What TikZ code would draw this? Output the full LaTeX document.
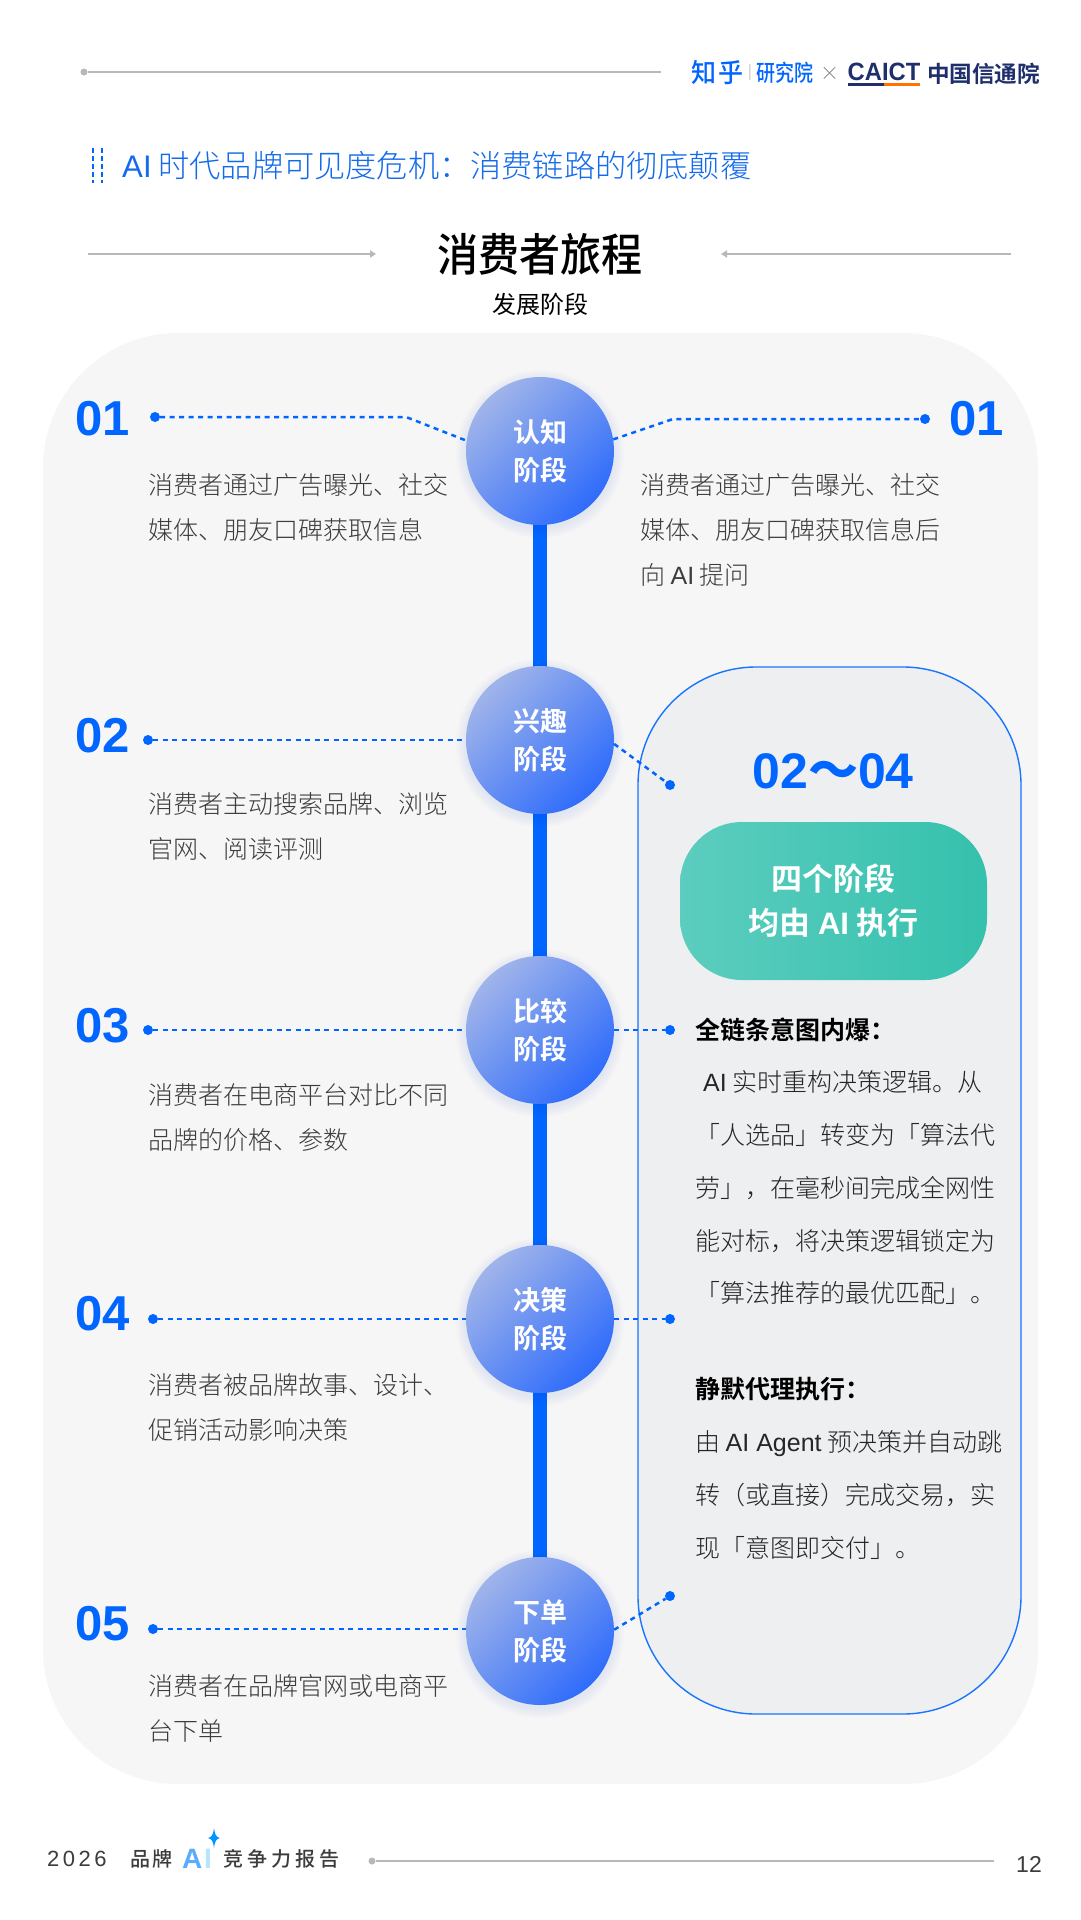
\documentclass[tikz,border=0pt]{standalone}
\usepackage{fontspec}
\usetikzlibrary{arrows.meta}
\setmainfont{Noto Sans CJK SC}[BoldFont={Noto Sans CJK SC Bold}]
\newfontfamily\lightcjk{Noto Sans CJK SC Light}
\newfontfamily\medcjk{Noto Sans CJK SC Medium}
\newfontfamily\lat{Liberation Sans}
\newcommand{\ltn}[1]{{\lat #1}}
\definecolor{mainblue}{HTML}{0066FF}
\definecolor{linegray}{HTML}{B8B8B8}
\definecolor{txtgray}{HTML}{3C3C3C}
\definecolor{logonavy}{HTML}{1F2F6B}
\definecolor{ballA}{HTML}{A0B4EA}
\definecolor{ballB}{HTML}{2F6CFB}
\definecolor{tealA}{HTML}{5CCDBF}
\definecolor{tealB}{HTML}{35C1AD}
\definecolor{pagepanel}{HTML}{F6F6F7}
\definecolor{sidepanel}{HTML}{EEEFF1}
\tikzset{
  px/.style={x=1pt,y=-1pt},
  stageshade/.style={circle,minimum size=148pt,inner sep=0pt,align=center,text=white,
    top color=ballA,bottom color=ballB,shading angle=45,font=\bfseries\fontsize{27}{38}\selectfont},
  halo/.style={circle,fill=mainblue!70!black,opacity=0.012,inner sep=0pt},
  num/.style={text=mainblue,font=\lat\bfseries\fontsize{49}{49}\selectfont,anchor=west,inner sep=0pt},
  desc/.style={text=txtgray,font=\lightcjk\fontsize{25}{45}\selectfont,align=left,anchor=north west,inner sep=0pt},
  body/.style={text=black!85,font=\lightcjk\fontsize{25}{52.8}\selectfont,align=left,anchor=north west,inner sep=0pt},
  bodyhead/.style={text=black,font=\bfseries\fontsize{25}{30}\selectfont,anchor=west,inner sep=0pt},
  dotend/.style={circle,fill=mainblue,minimum size=10pt,inner sep=0pt},
  smalldot/.style={circle,fill=linegray,minimum size=7pt,inner sep=0pt},
  dashlink/.style={draw=mainblue,line width=2.5pt,dash pattern=on 5pt off 4.5pt},
  ruleline/.style={draw=linegray,line width=1.6pt},
  arrowline/.style={draw=linegray,line width=1.5pt,-{Triangle[length=6pt,width=7pt,fill=linegray]}},
}
\begin{document}
\begin{tikzpicture}[px]
\useasboundingbox (0,0) rectangle (1080,1920);
\fill[white] (0,0) rectangle (1080,1920);

% header
\node[smalldot] (hd) at (84,72) {};
\coordinate (he) at (661,72);
\draw[ruleline] (hd) -- (he);
\node[inner sep=0pt,text=mainblue,font=\medcjk\fontsize{25}{25}\selectfont,yscale=1.05,transform shape] (zh) at (717.5,73) {知\hspace{2pt}乎};
\node[inner sep=0pt,text=linegray,font=\fontsize{14}{14}\selectfont] (bar) at (750,73) {|};
\node[inner sep=0pt,text=mainblue,font=\medcjk\fontsize{19}{19}\selectfont,yscale=1.2,transform shape] (yj) at (784.5,73) {研究院};
\node[inner sep=0pt,text=gray,font=\lightcjk\fontsize{19}{19}\selectfont] (xx) at (830,74) {×};
\node[inner sep=0pt,text=logonavy,font=\lat\bfseries\fontsize{25}{25}\selectfont,xscale=0.95,transform shape] (ca) at (884,72) {CAICT};
\coordinate (ul1) at (848,84); \coordinate (ul2) at (884,84); \coordinate (ul3) at (920,84);
\draw[logonavy,line width=3pt] (ul1) -- (ul2);
\draw[orange!90!red,line width=3pt] (ul2) -- (ul3);
\node[inner sep=0pt,text=logonavy,font=\bfseries\fontsize{22.6}{24}\selectfont] (zg) at (983.5,74) {中国信通院};

% section title
\draw[mainblue,line width=2.2pt,dash pattern=on 5pt off 3pt] (93,148) -- (93,183);
\draw[mainblue,line width=2.2pt,dash pattern=on 5pt off 3pt] (102,148) -- (102,183);
\node[anchor=west,inner sep=0pt,text=mainblue!85!gray,font=\lightcjk\fontsize{31.2}{31}\selectfont] (sec) at (122,166) {\ltn{AI} 时代品牌可见度危机：消费链路的彻底颠覆};

% title
\node[inner sep=0pt,text=black,font=\medcjk\fontsize{41}{41}\selectfont,yscale=1.1,transform shape] (ttl) at (540,254) {消费者旅程};
\node[inner sep=0pt,text=black,font=\fontsize{24}{24}\selectfont] (sub) at (540,304) {发展阶段};
\coordinate (al) at (88,254); \coordinate (ale) at (376,254);
\coordinate (ar) at (1011,254); \coordinate (are) at (721,254);
\draw[arrowline] (al) -- (ale);
\draw[arrowline] (ar) -- (are);

% panels
\node[draw=none,fill=pagepanel,rounded corners=135pt,minimum width=995pt,minimum height=1451pt,inner sep=0pt] (bg) at (540.5,1058.5) {};
\node[draw=mainblue!90!white,line width=1.4pt,fill=sidepanel,rounded corners=118pt,minimum width=383pt,minimum height=1047pt,inner sep=0pt] (pn) at (829.5,1190.5) {};

% spine
\coordinate (s1) at (540,451); \coordinate (s5) at (540,1631);
\draw[mainblue,line width=14pt] (s1) -- (s5);

% stage halos
\foreach \yy in {451,740,1030,1319,1631}{
  \foreach \rr in {150,153,156,159,162,165,168}{
    \node[halo,minimum size=\rr pt] at (540,\yy+3) {};
  }
}

% stages
\node[stageshade] (c1) at (540,451) {认知\\阶段};
\node[stageshade] (c2) at (540,740) {兴趣\\阶段};
\node[stageshade] (c3) at (540,1030) {比较\\阶段};
\node[stageshade] (c4) at (540,1319) {决策\\阶段};
\node[stageshade] (c5) at (540,1631) {下单\\阶段};

% left rows
\node[dotend] (dl1) at (155,417) {};
\node[dotend] (dl2) at (148,740) {};
\node[dotend] (dl3) at (148,1030) {};
\node[dotend] (dl4) at (153,1319) {};
\node[dotend] (dl5) at (153,1629) {};
\coordinate (bl1) at (406,417);
\draw[dashlink] (dl1) -- (bl1) -- (c1.172);
\draw[dashlink] (dl2) -- (c2);
\draw[dashlink] (dl3) -- (c3);
\draw[dashlink] (dl4) -- (c4);
\draw[dashlink] (dl5) -- (dl5 -| c5.west);

% right rows
\node[dotend] (dr1) at (925,419) {};
\coordinate (br1) at (673,419);
\draw[dashlink] (c1.9) -- (br1) -- (dr1);
\node[dotend] (dr2) at (670,785) {};
\node[dotend] (dr3) at (670,1030) {};
\node[dotend] (dr4) at (670,1319) {};
\node[dotend] (dr5) at (670,1596) {};
\draw[dashlink] (c2.-3) -- (dr2);
\draw[dashlink] (c3) -- (dr3);
\draw[dashlink] (c4) -- (dr4);
\draw[dashlink] (c5.1) -- (dr5);

% numbers
\node[num] (n1) at (75,419) {01};
\node[num] (n2) at (75,736) {02};
\node[num] (n3) at (75,1026) {03};
\node[num] (n4) at (75,1314) {04};
\node[num] (n5) at (75,1624) {05};
\node[num] (n1r) at (949,419) {01};

% descriptions
\node[desc] (t1) at (148,473.5) {消费者通过广告曝光、社交\\媒体、朋友口碑获取信息};
\node[desc] (t2) at (148,792.5) {消费者主动搜索品牌、浏览\\官网、阅读评测};
\node[desc] (t3) at (148,1083.5) {消费者在电商平台对比不同\\品牌的价格、参数};
\node[desc] (t4) at (148,1373.5) {消费者被品牌故事、设计、\\促销活动影响决策};
\node[desc] (t5) at (148,1674.5) {消费者在品牌官网或电商平\\台下单};
\node[desc] (t1r) at (640,473.5) {消费者通过广告曝光、社交\\媒体、朋友口碑获取信息后\\向 \ltn{AI} 提问};

% right panel content
\node[inner sep=0pt,text=mainblue,font=\lat\bfseries\fontsize{50}{50}\selectfont] (rng) at (833,771) {02{\medcjk\fontsize{50}{50}\selectfont ～}04};
\node[left color=tealA,right color=tealB,rounded corners=62pt,minimum width=307pt,minimum height=158pt,inner sep=0pt,text=white,align=center,font=\bfseries\fontsize{31}{44}\selectfont] (tl) at (833.5,901) {四个阶段\\均由 \ltn{\bfseries AI} 执行};
\node[bodyhead] (h1) at (695,1030) {全链条意图内爆：};
\node[body] (b1) at (695,1070.5) {\hspace*{8pt}\ltn{AI} 实时重构决策逻辑。从\\「人选品」转变为「算法代\\劳」，在毫秒间完成全网性\\能对标，将决策逻辑锁定为\\「算法推荐的最优匹配」。};
\node[bodyhead] (h2) at (695,1389) {静默代理执行：};
\node[body] (b2) at (695,1430.5) {由 \ltn{AI Agent} 预决策并自动跳\\转（或直接）完成交易，实\\现「意图即交付」。};

% footer
\node[anchor=west,inner sep=0pt,text=txtgray,font=\lat\fontsize{22}{22}\selectfont] (f1) at (47,1859) {2\hspace{3.5pt}0\hspace{3.5pt}2\hspace{3.5pt}6};
\node[anchor=west,inner sep=0pt,text=txtgray,font=\medcjk\fontsize{20}{22}\selectfont] (f2) at (130,1859) {品\hspace{2pt}牌};
\node[anchor=west,inner sep=0pt,text=blue!50!cyan!65!white,font=\lat\bfseries\fontsize{28}{28}\selectfont] (f3) at (182,1859) {A};
\node[anchor=west,inner sep=0pt,text=cyan!30!white,font=\lat\bfseries\fontsize{28}{28}\selectfont] (f4) at (204,1859) {I};
\node[anchor=west,inner sep=0pt,text=txtgray,font=\medcjk\fontsize{20}{22}\selectfont] (f5) at (223,1859) {竞\hspace{4pt}争\hspace{4pt}力\hspace{4pt}报\hspace{4pt}告};
\fill[mainblue!70!cyan] (214,1828) .. controls (215,1835) and (216,1837) .. (220,1838) .. controls (216,1839) and (215,1841) .. (214,1848) .. controls (213,1841) and (212,1839) .. (208,1838) .. controls (212,1837) and (213,1835) .. (214,1828) -- cycle;
\node[smalldot] (fd) at (372,1861) {};
\coordinate (fe) at (994,1861);
\draw[ruleline] (fd) -- (fe);
\node[inner sep=0pt,text=txtgray,font=\lat\fontsize{23}{24}\selectfont] (pg) at (1029,1864) {12};
\end{tikzpicture}
\end{document}
